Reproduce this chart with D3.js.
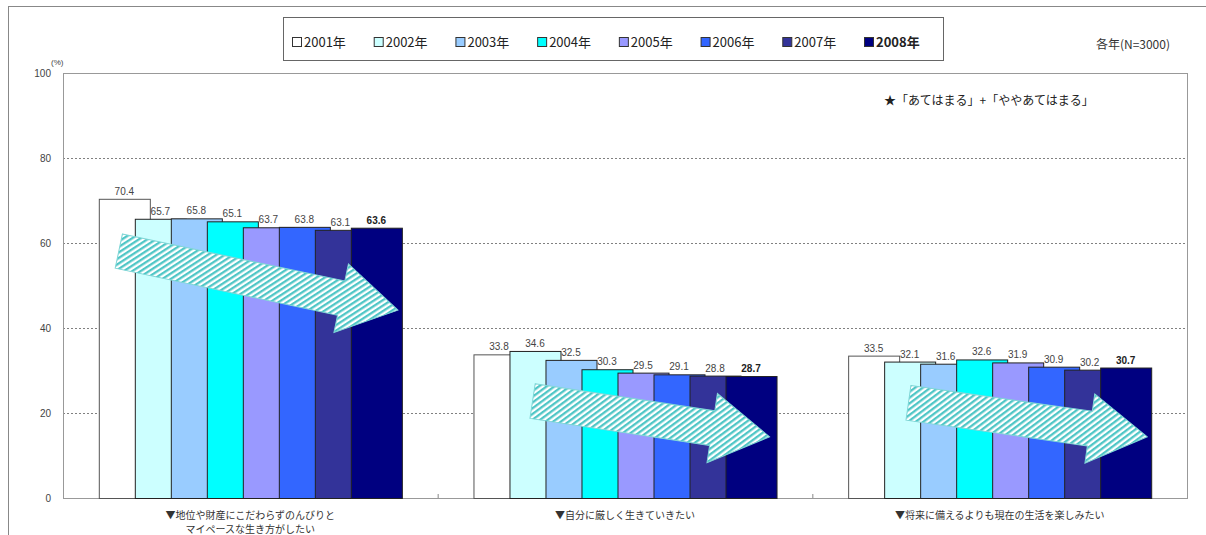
<!DOCTYPE html>
<html><head><meta charset="utf-8">
<script src="https://cdn.jsdelivr.net/npm/d3@7"></script>
<style>
body{margin:0;background:#fff;}
text{font-family:"Liberation Sans",Arial,sans-serif;}
.jp{font-family:"Noto Sans CJK JP","Liberation Sans",sans-serif;}
</style></head><body>
<svg id="chart" width="1206" height="535"></svg>
<script>
const categories = ["cat1","cat2","cat3"];
const categoryLabels = [
  ["▼地位や財産にこだわらずのんびりと","マイペースな生き方がしたい"],
  ["▼自分に厳しく生きていきたい"],
  ["▼将来に備えるよりも現在の生活を楽しみたい"]
];
const years = ["2001年","2002年","2003年","2004年","2005年","2006年","2007年","2008年"];
const colors = ["#ffffff","#ccffff","#99ccff","#00ffff","#9999ff","#3366ff","#333399","#000080"];
const v2001 = [70.4, 33.8, 33.5];
const v2002 = [65.7, 34.6, 32.1];
const v2003 = [65.8, 32.5, 31.6];
const v2004 = [65.1, 30.3, 32.6];
const v2005 = [63.7, 29.5, 31.9];
const v2006 = [63.8, 29.1, 30.9];
const v2007 = [63.1, 28.8, 30.2];
const v2008 = [63.6, 28.7, 30.7];
const seriesValues = [v2001,v2002,v2003,v2004,v2005,v2006,v2007,v2008];
const yTicks = [0,20,40,60,80,100];
// annotation arrows: category, tail/tip position as fraction of the group, tail/tip value
const arrowCat = ["cat1","cat2","cat3"];
const arrowFromFrac = [0.066, 0.195, 0.199];
const arrowToFrac = [0.987, 0.977, 0.987];
const arrowFromVal = [58.1, 22.8, 22.4];
const arrowToVal = [44.2, 14.4, 14.4];
const noteText = "★「あてはまる」+「ややあてはまる」";
const sampleText = "各年(N=3000)";

const svg = d3.select("#chart");
const L = 63, R = 1187, T = 73, B = 498;

// outer frame
svg.append("rect").attr("x",8.5).attr("y",6.5).attr("width",1230).attr("height",560)
  .attr("fill","none").attr("stroke","#888").attr("stroke-width",1);

const x0 = d3.scaleBand().domain(categories).range([L,R]);
const y = d3.scaleLinear().domain([0,100]).range([B,T]);
const band = x0.bandwidth();
const step = band*0.0961, barW = step*1.417;
const span = step*7 + barW;
const xs = d3.scaleLinear().domain([0,7]);
function groupStart(c){ return x0(c) + (band-span)/2; }

// defs: hatch pattern
const defs = svg.append("defs");
const pat = defs.append("pattern").attr("id","hatch").attr("patternUnits","userSpaceOnUse")
  .attr("width",4.6).attr("height",4.6).attr("patternTransform","rotate(45)");
pat.append("rect").attr("width",4.6).attr("height",4.6).attr("fill","#fff");
pat.append("rect").attr("width",2.3).attr("height",4.6).attr("fill","#4fc6c6");

// gridlines
const g = svg.append("g");
g.selectAll("line.grid").data(yTicks.filter(t=>t>0 && t<100)).join("line")
  .attr("x1",L).attr("x2",R).attr("y1",d=>y(d)+0.5).attr("y2",d=>y(d)+0.5)
  .attr("stroke","#808080").attr("stroke-dasharray","2,2").attr("stroke-width",1);
// plot frame
g.append("rect").attr("x",L+0.5).attr("y",T+0.5).attr("width",R-L).attr("height",B-T)
  .attr("fill","none").attr("stroke","#999").attr("stroke-width",1);

// y axis
const yAxis = d3.axisLeft(y).tickValues(yTicks).tickSize(0).tickPadding(12);
const ya = svg.append("g").attr("transform",`translate(${L},0)`).call(yAxis);
ya.select(".domain").remove();
ya.selectAll("text").attr("font-size",10).attr("fill","#444").attr("font-family","Liberation Sans, Arial, sans-serif");
svg.append("text").attr("x",L-12).attr("y",T-8).attr("font-size",8).attr("fill","#444").text("(%)");

// category separator ticks
svg.selectAll("line.ct").data(categories.slice(1)).join("line")
  .attr("x1",d=>x0(d)+0.5).attr("x2",d=>x0(d)+0.5).attr("y1",B).attr("y2",B-4).attr("stroke","#888");

// bars
seriesValues.forEach((vals,si)=>{
  svg.append("g").selectAll("rect").data(categories).join("rect")
    .attr("x",(c,ci)=>{ xs.range([groupStart(c), groupStart(c)+step*7]); return xs(si)+0.5; })
    .attr("y",(c,ci)=>y(vals[ci])+0.5)
    .attr("width",barW)
    .attr("height",(c,ci)=>B-y(vals[ci]))
    .attr("fill",colors[si])
    .attr("stroke",si===0?"#555":"#222").attr("stroke-width",1);
});
// value labels
seriesValues.forEach((vals,si)=>{
  svg.append("g").selectAll("text").data(categories).join("text")
    .attr("x",(c)=>{ xs.range([groupStart(c), groupStart(c)+step*7]); return xs(si)+barW/2; })
    .attr("y",(c,ci)=>y(vals[ci])-4)
    .attr("text-anchor","middle").attr("font-size",10)
    .attr("font-weight",si===7?"bold":"normal")
    .attr("fill",si===7?"#222":"#444")
    .text((c,ci)=>vals[ci].toFixed(1));
});

// arrows
const shaftH = 17.5, headH = 35, headL = 58;
arrowCat.forEach((c,i)=>{
  const gs = groupStart(c);
  const x1 = gs + span*arrowFromFrac[i], y1 = y(arrowFromVal[i]);
  const x2 = gs + span*arrowToFrac[i], y2 = y(arrowToVal[i]);
  const len = Math.hypot(x2-x1,y2-y1);
  const ang = Math.atan2(y2-y1,x2-x1)*180/Math.PI;
  const pts = [[0,-shaftH],[len-headL,-shaftH],[len-headL,-headH],[len,0],[len-headL,headH],[len-headL,shaftH],[0,shaftH]];
  svg.append("path").attr("d",d3.line()(pts)+"Z")
    .attr("transform",`translate(${x1},${y1}) rotate(${ang})`)
    .attr("fill","url(#hatch)").attr("stroke","#7fd6d6").attr("stroke-width",1);
});

// category labels
categories.forEach((c,i)=>{
  const t = svg.append("text").attr("class","jp").attr("x",x0(c)+band/2).attr("y",519)
    .attr("text-anchor","middle").attr("font-size",10).attr("fill","#333");
  categoryLabels[i].forEach((line,li)=>{
    t.append("tspan").attr("x",x0(c)+band/2).attr("dy",li===0?0:14).text(line);
  });
});

// legend
const lg = svg.append("g");
lg.append("rect").attr("x",283.5).attr("y",17.5).attr("width",660).attr("height",43)
  .attr("fill","#fff").attr("stroke","#666");
const lx = d3.scaleLinear().domain([0,7]).range([292,864]);
years.forEach((yr,i)=>{
  lg.append("rect").attr("x",lx(i)+0.5).attr("y",37.5).attr("width",9).attr("height",9)
    .attr("fill",colors[i]).attr("stroke","#333");
  lg.append("text").attr("class","jp").attr("x",lx(i)+12).attr("y",47).attr("font-size",13)
    .attr("font-weight",i===7?"bold":"normal").attr("fill","#222").text(yr);
});

svg.append("text").attr("class","jp").attr("x",1170).attr("y",49).attr("text-anchor","end")
  .attr("font-size",12).attr("fill","#333").text(sampleText);
svg.append("text").attr("class","jp").attr("x",884).attr("y",105)
  .attr("font-size",12).attr("fill","#222").text(noteText);
</script></body></html>
